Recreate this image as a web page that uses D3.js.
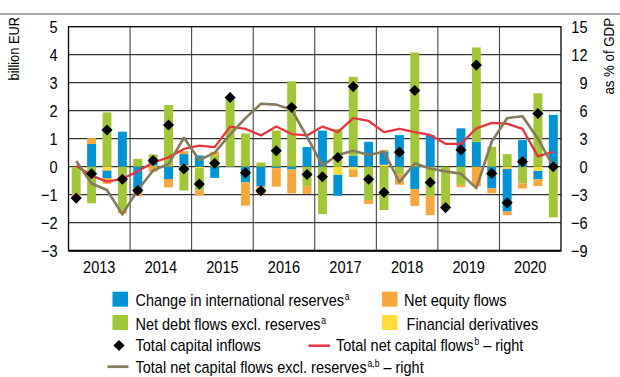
<!DOCTYPE html>
<html>
<head>
<meta charset="utf-8">
<script src="https://cdn.jsdelivr.net/npm/d3@7"></script>
<style>
  html, body { margin: 0; padding: 0; background: #fff; }
  svg { display: block; }
  text { font-family: "Liberation Sans", Arial, sans-serif; fill: #000; }
</style>
</head>
<body>
<svg id="chart" width="620" height="377"></svg>
<script>
// Quarterly balance-of-payments flows, 2013–2020
const years = ["2013", "2014", "2015", "2016", "2017", "2018", "2019", "2020"];
const quarters = years.flatMap(y => ["Q1", "Q2", "Q3", "Q4"].map(q => y + q));

// billion EUR (left axis)
const reserves = [
  0, 0.81, -0.27, 1.25,
  -0.9, 0.18, -0.44, 0.4,
  0.4, -0.4, 0, -0.56,
  -0.7, -0.05, -0.1, 0.7,
  1.29, -0.75, 0.39, 0.89,
  0.48, 1.13, -0.8, 1.13,
  0, 1.37, 0.89, -0.77,
  -1.52, 0.95, -0.3, 1.85
];
const equity = [
  -0.1, 0.21, -0.2, -0.12,
  -0.15, -0.18, -0.3, 0.1,
  -0.18, 0.14, 0, -0.83,
  -0.27, -0.66, -0.85, -0.27,
  0, 0, -0.27, -0.14,
  0.05, -0.36, -0.6, -0.69,
  0, -0.08, -0.7, -0.18,
  -0.13, -0.18, -0.24, 0
];
const debt = [
  -0.97, -1.31, 1.94, -1.55,
  0.28, 0.22, 2.2, -0.85,
  -0.8, 0.39, 2.47, 1.19,
  0.15, 1.29, 3.05, -0.7,
  -1.69, 1.35, 2.82, -1.19,
  -1.55, -0.28, 4.08, -1.04,
  -1.48, -0.65, 3.37, 0.71,
  0.45, -0.6, 2.62, -1.81
];
const derivatives = [
  0, 0, -0.14, 0,
  0, 0.04, 0, 0.05,
  -0.05, 0, 0, 0,
  0, 0, 0, 0,
  0, -0.29, -0.1, 0,
  0.07, 0, 0, 0,
  0, 0, 0, 0,
  -0.08, 0, -0.15, 0
];
const inflows = [
  -1.12, -0.25, 1.31, -0.45,
  -0.85, 0.22, 1.49, -0.08,
  -0.62, 0.12, 2.47, -0.22,
  -0.86, 0.57, 2.12, -0.28,
  -0.36, 0.33, 2.86, -0.45,
  -0.92, 0.52, 2.72, -0.56,
  -1.46, 0.6, 3.63, -0.24,
  -1.29, 0.18, 1.9, 0.0
];

// % of GDP (right axis)
const netFlows = [
  0.1, -0.95, -1.6, -1.3,
  -0.5, 0.45, 1.0, 1.9,
  2.25, 2.1, 4.3, 4.05,
  3.35, 4.3, 3.5, 3.35,
  4.3, 3.7, 5.2, 4.9,
  3.7, 4.05, 3.7, 3.4,
  2.45, 2.45, 4.1, 4.7,
  4.6, 4.05, 1.1, 1.6
];
const netFlowsExRes = [
  0.6, -1.8, -2.5, -5.1,
  -2.5, -0.4, 0.3, 3.1,
  0.7, 1.5, 3.45, 5.2,
  6.75, 6.65, 6.1, 3.2,
  0.15, 1.25, 1.7, 1.25,
  1.6, -1.65, 0.35, -0.2,
  -0.5, -0.75, -2.3, 2.7,
  5.2, 5.4, 3.0, 0.0
];

const leftTicks = [-3, -2, -1, 0, 1, 2, 3, 4, 5];
const rightTicks = [-9, -6, -3, 0, 3, 6, 9, 12, 15];

const colors = {
  reserves: "#0094d6",
  equity: "#f6a83e",
  debt: "#a1c739",
  derivatives: "#ffde3c",
  net: "#e8343e",
  netEx: "#857a5a"
};

const rows = quarters.map((q, i) => ({
  q,
  reserves: reserves[i],
  equity: equity[i],
  debt: debt[i],
  derivatives: derivatives[i]
}));

// condensed type: regular sans fitted to a narrower advance
const NARROW = 0.855;
function condense(sel) {
  sel.each(function () {
    const w = this.getComputedTextLength();
    d3.select(this).attr("textLength", w * NARROW).attr("lengthAdjust", "spacingAndGlyphs");
  });
  return sel;
}

const svg = d3.select("#chart");
const L = 68.5, R = 561, T = 26.7, B = 250.7;

const x = d3.scaleBand().domain(quarters).range([L, R]).paddingInner(0.42).paddingOuter(0.21);
const xYear = d3.scaleBand().domain(years).range([L, R]);
const y = d3.scaleLinear().domain([-3, 5]).range([B, T]);
const y2 = d3.scaleLinear().domain([-9, 15]).range([B, T]);
const fmt = d => d < 0 ? "\u2212" + Math.abs(d) : String(d);

// header rule
svg.append("line").attr("x1", 0).attr("x2", 620).attr("y1", 14).attr("y2", 14)
  .attr("stroke", "#8a8a8a").attr("stroke-width", 1.5);

// axis titles
condense(svg.append("text").attr("transform", "translate(18.5,17) rotate(-90)")
  .attr("text-anchor", "end").style("font-size", "15px").text("billion EUR"));
condense(svg.append("text").attr("transform", "translate(614,18) rotate(-90)")
  .attr("text-anchor", "end").style("font-size", "15.5px").text("as % of GDP"));

// horizontal grid
svg.append("g").selectAll("line").data(leftTicks.slice(1, -1)).join("line")
  .attr("x1", L).attr("x2", R).attr("y1", d => y(d)).attr("y2", d => y(d))
  .attr("stroke", "#000").attr("stroke-width", 1);

// year separators
svg.append("g").selectAll("line").data(years.slice(1)).join("line")
  .attr("x1", d => xYear(d)).attr("x2", d => xYear(d)).attr("y1", T).attr("y2", B)
  .attr("stroke", "#333").attr("stroke-width", 1);

// stacked bars
const stack = d3.stack().keys(["derivatives", "reserves", "debt", "equity"])
  .offset(d3.stackOffsetDiverging);
const series = stack(rows);
svg.append("g").selectAll("g").data(series).join("g")
  .attr("fill", s => colors[s.key])
  .selectAll("rect").data(s => s).join("rect")
  .attr("x", d => x(d.data.q))
  .attr("width", x.bandwidth())
  .attr("y", d => y(Math.max(d[0], d[1])))
  .attr("height", d => Math.abs(y(d[0]) - y(d[1])));

// lines on the right axis
const line = d3.line().x((d, i) => x(quarters[i]) + x.bandwidth() / 2).y(d => y2(d));
svg.append("path").datum(netFlows).attr("d", line)
  .attr("fill", "none").attr("stroke", colors.net).attr("stroke-width", 2.3)
  .attr("stroke-linejoin", "round");
svg.append("path").datum(netFlowsExRes).attr("d", line)
  .attr("fill", "none").attr("stroke", colors.netEx).attr("stroke-width", 2.6)
  .attr("stroke-linejoin", "round");

// total capital inflows
const diamond = d3.symbol(d3.symbolSquare, 62);
svg.append("g").selectAll("path").data(inflows).join("path")
  .attr("d", diamond)
  .attr("transform", (d, i) => `translate(${x(quarters[i]) + x.bandwidth() / 2},${y(d)}) rotate(45)`)
  .attr("fill", "#000");

// frame
svg.append("rect").attr("x", L).attr("y", T).attr("width", R - L).attr("height", B - T)
  .attr("fill", "none").attr("stroke", "#000").attr("stroke-width", 1.3);
svg.append("line").attr("x1", L).attr("x2", R).attr("y1", B).attr("y2", B)
  .attr("stroke", "#000").attr("stroke-width", 2);

// axes
const gl = svg.append("g").attr("transform", `translate(${L},0)`)
  .call(d3.axisLeft(y).tickValues(leftTicks).tickFormat(fmt).tickSize(0).tickPadding(11));
const gr = svg.append("g").attr("transform", `translate(${R},0)`)
  .call(d3.axisRight(y2).tickValues(rightTicks).tickFormat(fmt).tickSize(0).tickPadding(0));
gr.selectAll("text").attr("text-anchor", "end").attr("x", 26.5);
const gb = svg.append("g").attr("transform", `translate(0,${B})`)
  .call(d3.axisBottom(xYear).tickSize(0).tickPadding(10));
[gl, gr, gb].forEach(g => {
  g.select(".domain").remove();
  condense(g.selectAll("text").style("font-size", "17px").style("font-family", null));
});

// legend
const lg = svg.append("g");
const sw = [
  { x: 112.5, y: 291.7, c: colors.reserves },
  { x: 382, y: 291.7, c: colors.equity },
  { x: 112.5, y: 315, c: colors.debt },
  { x: 382, y: 315, c: colors.derivatives }
];
lg.selectAll("rect").data(sw).join("rect")
  .attr("x", d => d.x).attr("y", d => d.y).attr("width", 15.5).attr("height", 15)
  .attr("fill", d => d.c);

// one text per entry; superscript notes are raised, smaller runs
function label(xp, yp, parts) {
  const t = lg.append("text").attr("x", xp).attr("y", yp)
    .style("font-size", "17px").style("white-space", "pre");
  let raised = false;
  parts.forEach(p => {
    if (p.sup) {
      t.append("tspan").attr("dx", 1).attr("dy", -6).style("font-size", "10px").text(p.sup);
      raised = true;
    } else {
      const s = t.append("tspan").text(p.t);
      if (raised) { s.attr("dy", 6); raised = false; }
    }
  });
  condense(t);
}
label(135.5, 305.5, [{ t: "Change in international reserves" }, { sup: "a" }]);
label(404, 305.5, [{ t: "Net equity flows" }]);
label(135.5, 329.5, [{ t: "Net debt flows excl. reserves" }, { sup: "a" }]);
label(406.5, 329.5, [{ t: "Financial derivatives" }]);
label(135.5, 351, [{ t: "Total capital inflows" }]);
label(336, 351, [{ t: "Total net capital flows" }, { sup: "b" }, { t: "\u00a0\u2013 right" }]);
label(135.5, 373, [{ t: "Total net capital flows excl. reserves" }, { sup: "a,b" }, { t: "\u00a0\u2013 right" }]);

lg.append("path").attr("d", diamond)
  .attr("transform", "translate(119,345.5) rotate(45)").attr("fill", "#000");
lg.append("line").attr("x1", 308.5).attr("x2", 330).attr("y1", 345.7).attr("y2", 345.7)
  .attr("stroke", colors.net).attr("stroke-width", 2.5);
lg.append("line").attr("x1", 107.5).attr("x2", 128.5).attr("y1", 366.7).attr("y2", 366.7)
  .attr("stroke", colors.netEx).attr("stroke-width", 2.8);
</script>
</body>
</html>
